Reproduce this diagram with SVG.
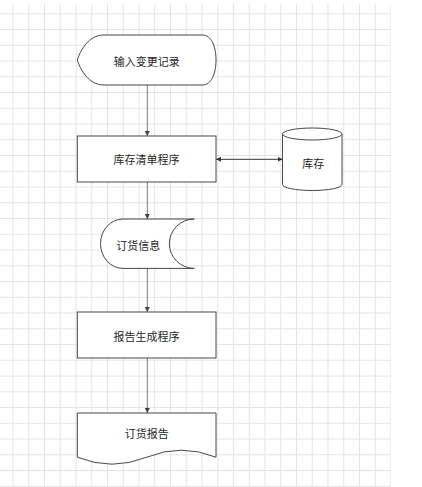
<svg xmlns="http://www.w3.org/2000/svg" width="422" height="487" viewBox="0 0 422 487">
<style>
.grid{stroke:#e4e4e4;stroke-width:1;fill:none}
.shape{fill:#ffffff;stroke:#474747;stroke-width:1}
.lbl{font-family:"Noto Sans CJK SC","Noto Sans",sans-serif;font-size:11px;fill:#262626;text-anchor:middle}
.flow{stroke:#7a7a7a;stroke-width:1;fill:none}
.link{stroke:#333333;stroke-width:1;fill:none}
</style>
<defs>
<marker id="ag" viewBox="0 0 10 10" refX="10" refY="5" markerWidth="5" markerHeight="5" markerUnits="userSpaceOnUse" orient="auto">
<path d="M0,0 L10,5 L0,10 Z" fill="#444444"/>
</marker>
<marker id="ad" viewBox="0 0 10 10" refX="10" refY="5" markerWidth="5" markerHeight="5" markerUnits="userSpaceOnUse" orient="auto-start-reverse">
<path d="M0,0 L10,5 L0,10 Z" fill="#333333"/>
</marker>
<pattern id="gp" x="12.5" y="13.3" width="15.75" height="15.75" patternUnits="userSpaceOnUse">
<path d="M0.5,0 V15.75 M0,0.5 H15.75" class="grid"/>
</pattern>
</defs>
<rect width="422" height="487" fill="#ffffff"/>
<g id="grid">
<rect x="0" y="4" width="391" height="483" fill="url(#gp)"/>
</g>
<g id="connectors">
<line class="flow" x1="147.3" y1="85" x2="147.3" y2="136" marker-end="url(#ag)"/>
<line class="flow" x1="147.3" y1="182" x2="147.3" y2="219" marker-end="url(#ag)"/>
<line class="flow" x1="147.3" y1="269" x2="147.3" y2="312" marker-end="url(#ag)"/>
<line class="flow" x1="147.3" y1="358" x2="147.3" y2="413" marker-end="url(#ag)"/>
<line class="link" x1="216" y1="159.3" x2="282.5" y2="159.3" marker-start="url(#ad)" marker-end="url(#ad)"/>
</g>
<g id="node-input">
<path class="shape" d="M77.3,60 C82,46 91,35 104,35 L202.7,35 C211,35 216,46 216,60 C216,74 211,85 202.7,85 L104,85 C91,85 82,74 77.3,60 Z"/>
<text class="lbl" x="146.7" y="66.3">输入变更记录</text>
</g>
<g id="node-inventory-program">
<rect class="shape" x="77.3" y="136" width="138.7" height="46"/>
<text class="lbl" x="146.5" y="164.2">库存清单程序</text>
</g>
<g id="node-inventory">
<path class="shape" d="M282.5,134 A29.75,6 0 0 1 342,134 V184.5 A29.75,6 0 0 1 282.5,184.5 Z"/>
<path class="shape" d="M282.5,134 A29.75,6 0 0 0 342,134" fill="none"/>
<text class="lbl" x="313.2" y="168">库存</text>
</g>
<g id="node-order-info">
<path class="shape" d="M123,219 L194.3,219 A25,24.7 0 0 0 194.3,268.4 L123,268.4 A22.5,24.7 0 0 1 123,219 Z"/>
<text class="lbl" x="138.3" y="250">订货信息</text>
</g>
<g id="node-report-program">
<rect class="shape" x="77.3" y="312" width="138.7" height="46"/>
<text class="lbl" x="146.5" y="341">报告生成程序</text>
</g>
<g id="node-report">
<path class="shape" d="M77.3,413 L216,413 L216,457.2 Q181.3,443.2 146.7,457.2 Q112,471.2 77.3,457.2 Z"/>
<text class="lbl" x="146.7" y="437.5">订货报告</text>
</g>
</svg>
